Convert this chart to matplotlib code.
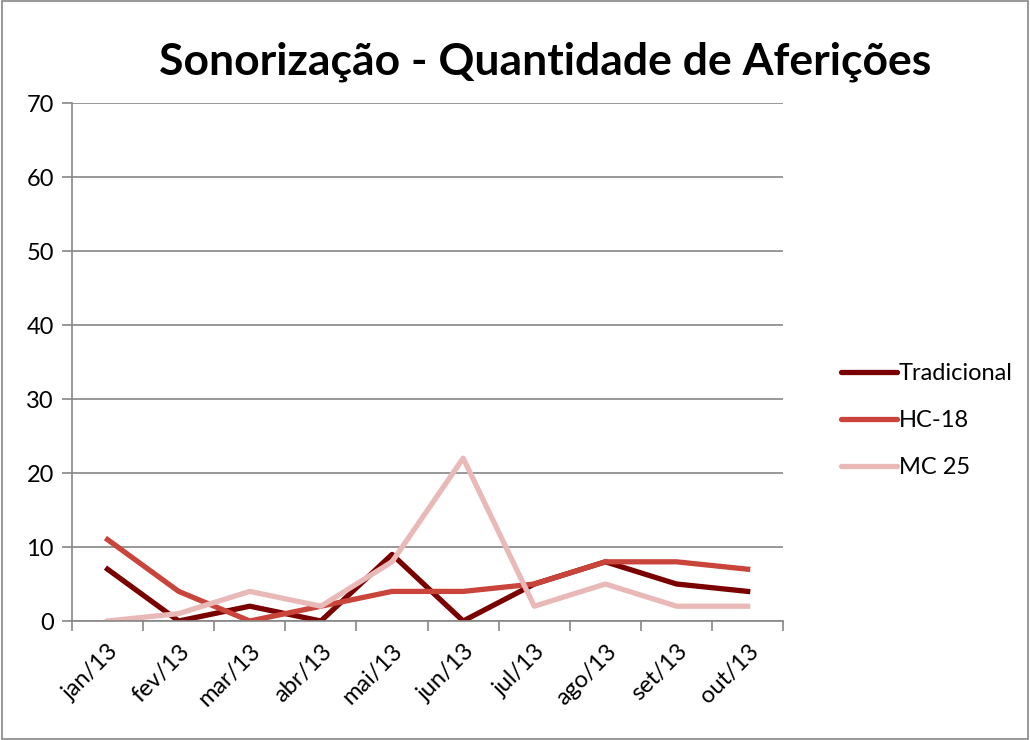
import matplotlib.pyplot as plt
from matplotlib.patches import Rectangle
from matplotlib.lines import Line2D

plt.rcParams['font.family'] = ['Lato', 'DejaVu Sans']

months = ['jan/13', 'fev/13', 'mar/13', 'abr/13', 'mai/13',
          'jun/13', 'jul/13', 'ago/13', 'set/13', 'out/13']
tradicional = [7, 0, 2, 0, 9, 0, 5, 8, 5, 4]
hc18 = [11, 4, 0, 2, 4, 4, 5, 8, 8, 7]
mc25 = [0, 1, 4, 2, 8, 22, 2, 5, 2, 2]

series = [('Tradicional', tradicional, '#7a0000'),
          ('HC-18', hc18, '#c9443a'),
          ('MC 25', mc25, '#e9b9b8')]

fig = plt.figure(figsize=(10.3, 7.4), dpi=100)
ax = fig.add_axes([0.0699, 0.1608, 0.6905, 0.7])

x = list(range(len(months)))
for name, vals, col in series:
    ax.plot(x, vals, color=col, lw=3.8, label=name)

ax.set_xlim(-0.5, len(months) - 0.5)
ax.set_ylim(0, 70)
ax.set_yticks(range(0, 71, 10))
ax.yaxis.grid(True, color='#868686', lw=1.2)
ax.set_axisbelow(True)

ax.set_xticks(x)
ax.set_xticklabels(months, rotation=45, ha='right', rotation_mode='anchor', fontsize=17)
ax.tick_params(axis='x', length=0, pad=14)
ax.set_xticks([i - 0.5 for i in range(len(months) + 1)], minor=True)
ax.tick_params(axis='x', which='minor', length=7, color='#868686', width=1.2)
ax.tick_params(axis='y', length=7, color='#868686', width=1.2, labelsize=17, pad=6)

for s in ['top', 'right']:
    ax.spines[s].set_visible(False)
for s in ['left', 'bottom']:
    ax.spines[s].set_color('#868686')
    ax.spines[s].set_linewidth(1.2)

handles = [Line2D([0], [0], color=c, lw=3.8, solid_capstyle='round') for _, _, c in series]
fig.legend(handles, [n for n, _, _ in series], loc='center left',
           bbox_to_anchor=(0.796, 0.432), frameon=False, fontsize=17,
           handlelength=2.35, handletextpad=0.1, labelspacing=1.1)

fig.text(0.529, 0.916, 'Sonorização - Quantidade de Aferições', ha='center', va='center',
         fontsize=32, fontweight='bold')

fig.patches.append(Rectangle((0.002, 0.002), 0.996, 0.996, transform=fig.transFigure,
                             fill=False, edgecolor='#868686', lw=1.2))

fig.savefig('out.png', dpi=100)
